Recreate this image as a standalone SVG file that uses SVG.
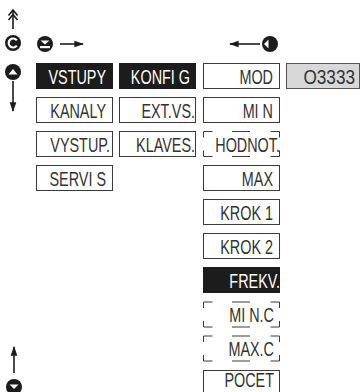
<svg xmlns="http://www.w3.org/2000/svg" width="361" height="392" viewBox="0 0 361 392">
<style>
.box{fill:#fff;stroke:#3a3a3a;stroke-width:1}
.blk{fill:#1c1c1c;stroke:#1c1c1c;stroke-width:1}
.gry{fill:#d8d8d8;stroke:#555;stroke-width:1}
.dash{fill:none;stroke:#3a3a3a;stroke-width:1}
.t{font-family:"Liberation Sans",Arial,sans-serif;font-size:20px;fill:#333;text-anchor:end}
.w{fill:#fff}
.ln{stroke:#1c1c1c;stroke-width:1.6;fill:none}
</style>
<defs>
<marker id="ah" viewBox="0 0 10 10" refX="9" refY="5" markerWidth="6" markerHeight="6" orient="auto"><path d="M0,1.5 L10,5 L0,8.5 Z" fill="#1c1c1c"/></marker>
</defs>
<rect width="361" height="392" fill="#fff"/>
<g id="icons">
  <path class="ln" d="M13,10 V29"/>
  <path class="ln" d="M8.5,15.5 L13,10 L17.5,15.5 M8.5,20 L13,14.5 L17.5,20"/>
  <g id="btn-c"><circle cx="13" cy="43" r="8" fill="#1c1c1c"/><path d="M16.8,40.3 A4.5,4.5 0 1 0 16.8,45.7" stroke="#fff" stroke-width="2.2" fill="none"/></g>
  <g id="btn-down"><circle cx="45" cy="44" r="8" fill="#1c1c1c"/><path d="M40.5,40.5 L49.5,40.5 L45,44.5 Z" fill="#fff"/><rect x="40" y="46" width="10" height="2.2" fill="#fff"/></g>
  <path class="ln" d="M60,44 H83" marker-end="url(#ah)"/>
  <g id="btn-up"><circle cx="13" cy="72" r="8" fill="#1c1c1c"/><path d="M8.5,74.5 L17.5,74.5 L13,69 Z" fill="#fff"/></g>
  <path class="ln" d="M13,81 V111" marker-end="url(#ah)"/>
  <path class="ln" d="M260,44 H230" marker-end="url(#ah)"/>
  <g id="btn-left"><circle cx="270" cy="44" r="8" fill="#1c1c1c"/><path d="M264,44 L268.5,39.5 L268.5,48.5 Z" fill="#fff"/></g>
  <path class="ln" d="M14,373 V347" marker-end="url(#ah)"/>
  <g id="btn-down2"><circle cx="14" cy="387" r="8" fill="#1c1c1c"/><path d="M9.5,384.5 L18.5,384.5 L14,389 Z" fill="#fff"/></g>
</g>
<g id="connectors"></g>
<g id="n-vstupy"><rect class="blk" x="36.5" y="63.5" width="76" height="25"/><text class="t w" transform="translate(106,84) scale(0.72,1)">VSTUPY</text></g>
<g id="n-kanaly"><rect class="box" x="36.5" y="97.5" width="76" height="25"/><text class="t" transform="translate(106,118) scale(0.72,1)">KANALY</text></g>
<g id="n-vystup"><rect class="box" x="36.5" y="131.5" width="76" height="25"/><text class="t" transform="translate(110,152) scale(0.72,1)">VYSTUP.</text></g>
<g id="n-servis"><rect class="box" x="36.5" y="165.5" width="76" height="25"/><text class="t" transform="translate(106,186) scale(0.72,1)">SERVI S</text></g>
<g id="n-konfig"><rect class="blk" x="119.5" y="63.5" width="76" height="25"/><text class="t w" transform="translate(190,84) scale(0.72,1)">KONFI G</text></g>
<g id="n-extvs"><rect class="box" x="119.5" y="97.5" width="76" height="25"/><text class="t" transform="translate(195,118) scale(0.72,1)">EXT.VS.</text></g>
<g id="n-klaves"><rect class="box" x="119.5" y="131.5" width="76" height="25"/><text class="t" transform="translate(195,152) scale(0.72,1)">KLAVES.</text></g>
<g id="n-mod"><rect class="box" x="203.5" y="63.5" width="76" height="25"/><text class="t" transform="translate(273,84) scale(0.72,1)">MOD</text></g>
<g id="n-val"><rect class="gry" x="286.5" y="63.5" width="73" height="25"/><text class="t" transform="translate(355,84) scale(0.86,1)">O3333</text></g>
<g id="n-min"><rect class="box" x="203.5" y="97.5" width="76" height="25"/><text class="t" transform="translate(273,118) scale(0.72,1)">MI N</text></g>
<g id="n-hodnot"><path class="dash" d="M203.5,137.5 V131.5 H212.5 M232,131.5 H250 M270.5,131.5 H279.5 V137.5 M203.5,150.5 V156.5 H212.5 M232,156.5 H250 M270.5,156.5 H279.5 V150.5"/><text class="t" transform="translate(280,152) scale(0.72,1)">HODNOT.</text></g>
<g id="n-max"><rect class="box" x="203.5" y="165.5" width="76" height="25"/><text class="t" transform="translate(273,186) scale(0.72,1)">MAX</text></g>
<g id="n-krok1"><rect class="box" x="203.5" y="199.5" width="76" height="25"/><text class="t" transform="translate(273,220) scale(0.72,1)">KROK 1</text></g>
<g id="n-krok2"><rect class="box" x="203.5" y="233.5" width="76" height="25"/><text class="t" transform="translate(273,254) scale(0.72,1)">KROK 2</text></g>
<g id="n-frekv"><rect class="blk" x="203.5" y="267.5" width="76" height="25"/><text class="t w" transform="translate(280,288) scale(0.72,1)">FREKV.</text></g>
<g id="n-minc"><path class="dash" d="M203.5,308 V302 H212.5 M232,302 H250 M270.5,302 H279.5 V308 M203.5,321 V327 H212.5 M232,327 H250 M270.5,327 H279.5 V321"/><text class="t" transform="translate(274,322) scale(0.72,1)">MI N.C</text></g>
<g id="n-maxc"><path class="dash" d="M203.5,342 V336 H212.5 M232,336 H250 M270.5,336 H279.5 V342 M203.5,355 V361 H212.5 M232,361 H250 M270.5,361 H279.5 V355"/><text class="t" transform="translate(274,356) scale(0.72,1)">MAX.C</text></g>
<g id="n-pocet"><rect class="box" x="203.5" y="370.5" width="76" height="25"/><text class="t" transform="translate(274,387) scale(0.72,1)">POCET</text></g>
</svg>
